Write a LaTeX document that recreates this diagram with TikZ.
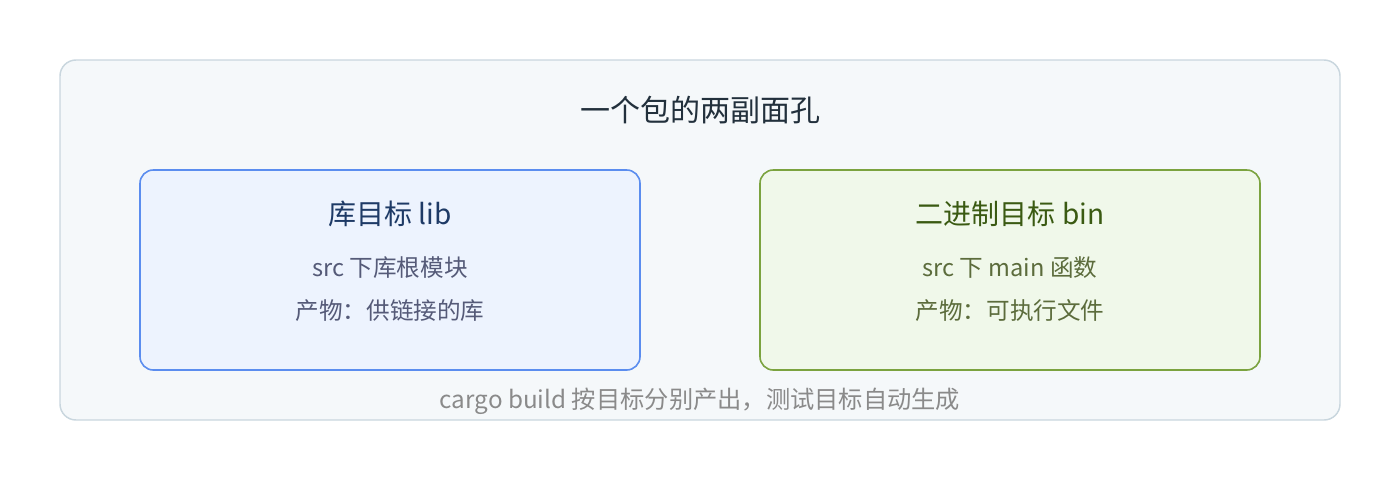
\documentclass[tikz,border=0pt]{standalone}
\usepackage{fontspec}
\setmainfont{Noto Sans CJK SC}
\definecolor{panelfill}{HTML}{F5F8FA}
\definecolor{paneldraw}{HTML}{C9D6DE}
\definecolor{libfill}{HTML}{EDF3FE}
\definecolor{libdraw}{HTML}{5B8DEF}
\definecolor{libtext}{HTML}{1E3A66}
\definecolor{libsub}{HTML}{555A78}
\definecolor{binfill}{HTML}{F0F8EA}
\definecolor{bindraw}{HTML}{7BA33F}
\definecolor{bintext}{HTML}{3A5A12}
\definecolor{binsub}{HTML}{5C6C3C}
\definecolor{titletext}{HTML}{22303C}
\definecolor{foottext}{HTML}{8A8A8A}
\tikzset{
	panel/.style={draw=paneldraw, fill=panelfill, line width=1.1pt, rounded corners=12pt, minimum width=960pt, minimum height=270pt},
	target/.style={line width=1.2pt, rounded corners=10pt, minimum width=375pt, minimum height=150pt},
	bigtitle/.style={font=\fontsize{22.5}{27}\selectfont, text=titletext},
	boxtitle/.style={font=\fontsize{21}{25}\selectfont},
	boxsub/.style={font=\fontsize{17.7}{21}\selectfont},
	footnote/.style={font=\fontsize{18.2}{22}\selectfont, text=foottext},
}
\begin{document}
\begin{tikzpicture}[x=0.75pt, y=-0.75pt]
	\useasboundingbox (0,0) rectangle (1400,480);
	\node[panel] (outer) at (700,240){};
	\node[bigtitle] (title) at (700,110){一个包的两副面孔};

	% library target
	\node[target, draw=libdraw, fill=libfill] (lib) at (390,270){};
	\node[boxtitle, text=libtext] (libname) at (390,214){库目标 lib};
	\node[boxsub, text=libsub] (libsrc) at (390,268){src 下库根模块};
	\node[boxsub, text=libsub] (libout) at (390,311){产物：供链接的库};

	% binary target
	\node[target, draw=bindraw, fill=binfill] (bin) at (1010,270){};
	\node[boxtitle, text=bintext] (binname) at (1010,214){二进制目标 bin};
	\node[boxsub, text=binsub] (binsrc) at (1010,268){src 下 main 函数};
	\node[boxsub, text=binsub] (binout) at (1010,311){产物：可执行文件};

	\node[footnote] (foot) at (700,401){cargo build 按目标分别产出，测试目标自动生成};
\end{tikzpicture}
\end{document}
